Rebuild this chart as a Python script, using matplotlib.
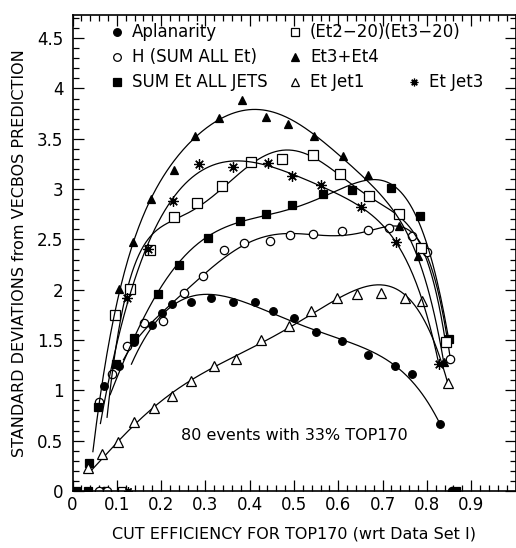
import numpy as np
import matplotlib
matplotlib.use('Agg')
import matplotlib.pyplot as plt
from matplotlib.ticker import MultipleLocator

# values (cut efficiency, std. deviations)
apl_x = [0.070, 0.104, 0.139, 0.179, 0.203, 0.224, 0.267, 0.312, 0.362, 0.411,
         0.452, 0.499, 0.550, 0.608, 0.667, 0.727, 0.767, 0.829]
apl_y = [1.04, 1.24, 1.48, 1.65, 1.77, 1.86, 1.88, 1.92, 1.88, 1.88,
         1.79, 1.72, 1.58, 1.49, 1.35, 1.24, 1.16, 0.67]

h_x = [0.059, 0.089, 0.124, 0.162, 0.205, 0.252, 0.294, 0.343, 0.387, 0.445,
       0.490, 0.542, 0.608, 0.668, 0.715, 0.767, 0.801, 0.853]
h_y = [0.88, 1.16, 1.44, 1.67, 1.69, 1.97, 2.14, 2.39, 2.46, 2.48,
       2.54, 2.55, 2.58, 2.59, 2.61, 2.53, 2.37, 1.31]

sj_x = [0.037, 0.057, 0.099, 0.138, 0.192, 0.241, 0.306, 0.379, 0.437, 0.496,
        0.565, 0.632, 0.718, 0.784, 0.849]
sj_y = [0.28, 0.83, 1.26, 1.52, 1.96, 2.25, 2.51, 2.68, 2.75, 2.84,
        2.95, 2.99, 3.01, 2.73, 1.51]

e23_x = [0.097, 0.129, 0.174, 0.230, 0.282, 0.338, 0.402, 0.473, 0.542, 0.604,
         0.670, 0.736, 0.786, 0.842]
e23_y = [1.75, 2.01, 2.39, 2.72, 2.86, 3.03, 3.27, 3.30, 3.34, 3.15,
         2.93, 2.75, 2.41, 1.48]

e34_x = [0.106, 0.136, 0.177, 0.229, 0.276, 0.330, 0.382, 0.436, 0.486, 0.545,
         0.610, 0.668, 0.736, 0.780, 0.838]
e34_y = [2.01, 2.47, 2.90, 3.19, 3.53, 3.71, 3.89, 3.72, 3.65, 3.53,
         3.33, 3.14, 2.63, 2.34, 1.28]

j1_x = [0.034, 0.067, 0.102, 0.139, 0.185, 0.224, 0.267, 0.319, 0.368, 0.426,
        0.488, 0.539, 0.596, 0.643, 0.697, 0.750, 0.788, 0.847]
j1_y = [0.23, 0.37, 0.49, 0.69, 0.82, 0.94, 1.09, 1.24, 1.31, 1.50,
        1.64, 1.79, 1.92, 1.96, 1.97, 1.92, 1.89, 1.07]

j3_x = [0.124, 0.171, 0.226, 0.285, 0.362, 0.441, 0.496, 0.560, 0.652, 0.730, 0.827]
j3_y = [1.92, 2.40, 2.88, 3.25, 3.22, 3.26, 3.13, 3.04, 2.82, 2.47, 1.26]

# points sitting on the x axis (zero)
zero_fc_x = [0.070, 0.857]
zero_fs_x = [0.007, 0.036, 0.866]
zero_oc_x = [0.060, 0.078]
zero_os_x = [0.112]
zero_j3_x = [0.126]

# where each fitted curve starts (x, y)
fit_start_x = {'apl': 0.133, 'h': 0.115, 'sj': 0.085, 'e23': 0.078, 'e34': 0.046, 'j1': 0.04, 'j3': 0.063}
fit_start_y = {'apl': 1.25, 'h': 1.30, 'sj': 0.95, 'e23': 0.72, 'e34': 0.39, 'j1': 0.19, 'j3': 0.67}
fit_deg = {'apl': 5, 'h': 6, 'sj': 5, 'e23': 6, 'e34': 6, 'j1': 5, 'j3': 6}

W, H = 516, 548
fig = plt.figure(figsize=(W / 100, H / 100), dpi=100)
ax = fig.add_axes([72.5 / W, (H - 491) / H, 443 / W, 476 / H])

asterisk = (8, 2, 0)
series = [
    ('apl', apl_x, apl_y, 'o', 'black', 5.5),
    ('h', h_x, h_y, 'o', 'white', 6),
    ('sj', sj_x, sj_y, 's', 'black', 5.5),
    ('e23', e23_x, e23_y, 's', 'white', 6.5),
    ('e34', e34_x, e34_y, '^', 'black', 6),
    ('j1', j1_x, j1_y, '^', 'white', 7),
    ('j3', j3_x, j3_y, asterisk, 'black', 7.5),
]

for key, xs, ys, mk, fc, ms in series:
    xs = np.array(xs)
    ys = np.array(ys)
    x0 = fit_start_x[key]
    keep = xs >= x0
    fx = np.concatenate([[x0], xs[keep]])
    fy = np.concatenate([[fit_start_y[key]], ys[keep]])
    w = np.ones(len(fx))
    w[0] = 4
    w[-1] = 4
    c = np.polyfit(fx, fy, fit_deg[key], w=w)
    xx = np.linspace(x0, xs[-1], 300)
    ax.plot(xx, np.polyval(c, xx), color='black', lw=0.9)
    ax.plot(xs, ys, ls='none', marker=mk, mfc=fc, mec='black', ms=ms, mew=0.9)

for xs, mk, fc in [(zero_fc_x, 'o', 'black'), (zero_fs_x, 's', 'black'),
                   (zero_oc_x, 'o', 'white'), (zero_os_x, 's', 'white'),
                   (zero_j3_x, asterisk, 'black')]:
    ax.plot(xs, [0] * len(xs), ls='none', marker=mk, mfc=fc, mec='black', ms=6, mew=0.9)

ax.set_xlim(0, 1.0)
ax.set_ylim(0, 4.73)
ax.xaxis.set_minor_locator(MultipleLocator(0.02))
ax.yaxis.set_minor_locator(MultipleLocator(0.1))
ax.set_xticks(np.arange(0, 1.0, 0.1))
ax.set_xticklabels(['0', '0.1', '0.2', '0.3', '0.4', '0.5', '0.6', '0.7', '0.8', '0.9'])
ax.set_yticks(np.arange(0, 4.6, 0.5))
ax.set_yticklabels(['0', '0.5', '1', '1.5', '2', '2.5', '3', '3.5', '4', '4.5'])
ax.tick_params(which='both', direction='in', top=True, right=True, labelsize=12)
ax.tick_params(which='major', length=8, width=0.9)
ax.tick_params(which='minor', length=4, width=0.9)
ax.tick_params(axis='y', which='major', pad=6.5)
for s in ax.spines.values():
    s.set_linewidth(1.2)

ax.set_xlabel('CUT EFFICIENCY FOR TOP170 (wrt Data Set I)', fontsize=11.5, labelpad=9)
ax.set_ylabel('STANDARD DEVIATIONS from VECBOS PREDICTION', fontsize=11.5, labelpad=7)

# legend as text, laid out like the original
leg = [
    (0.10, 4.56, 'o', 'black', 'Aplanarity'),
    (0.10, 4.31, 'o', 'white', 'H (SUM ALL Et)'),
    (0.10, 4.06, 's', 'black', 'SUM Et ALL JETS'),
    (0.502, 4.56, 's', 'white', '(Et2\u221220)(Et3\u221220)'),
    (0.502, 4.31, '^', 'black', 'Et3+Et4'),
    (0.502, 4.06, '^', 'white', 'Et Jet1'),
    (0.771, 4.06, asterisk, 'black', 'Et Jet3'),
]
for lx, ly, mk, fc, txt in leg:
    ax.plot([lx], [ly], ls='none', marker=mk, mfc=fc, mec='black', ms=5.5, mew=0.9)
    ax.text(lx + 0.034, ly, txt, fontsize=12, va='center', ha='left')

ax.text(0.5, 0.55, '80 events with 33% TOP170', fontsize=11.5, ha='center', va='center')

fig.savefig('out.png', dpi=100)
